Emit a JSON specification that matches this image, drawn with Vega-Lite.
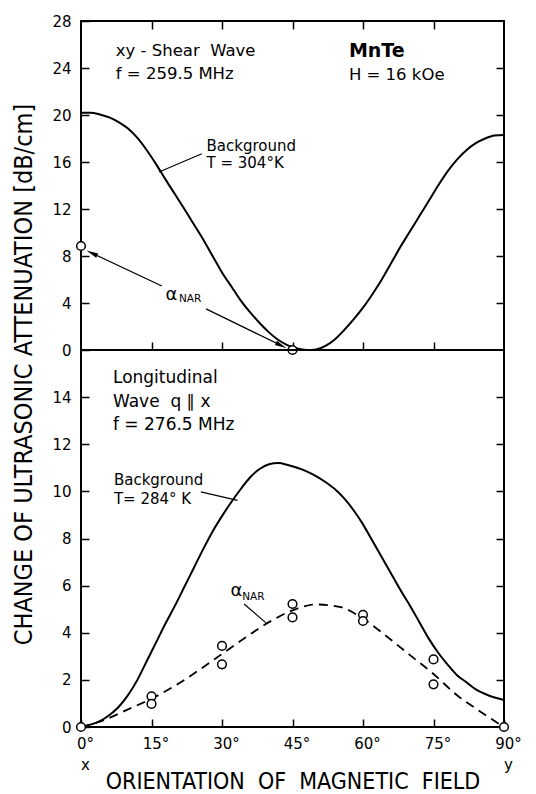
{
  "$schema": "https://vega.github.io/schema/vega-lite/v6.json",
  "background": "white",
  "padding": {"left": 10, "top": 13, "right": 14, "bottom": 0},
  "config": {
    "view": {"stroke": "black", "strokeWidth": 2},
    "font": "DejaVu Sans",
    "axis": {
      "domain": false,
      "grid": false,
      "ticks": true,
      "tickColor": "black",
      "tickWidth": 1.5,
      "tickSize": 8,
      "offset": -8,
      "zindex": 1,
      "labelColor": "black",
      "labelFont": "DejaVu Sans",
      "labelFontSize": 15,
      "titleColor": "black",
      "titleFont": "DejaVu Sans Condensed",
      "titleFontWeight": "normal"
    },
    "text": {"font": "DejaVu Sans", "color": "black", "align": "left", "baseline": "alphabetic"}
  },
  "datasets": {
    "bg1": [
      {"angle": 0, "att": 20.2}, {"angle": 2, "att": 20.2}, {"angle": 4, "att": 20.05}, {"angle": 6, "att": 19.8},
      {"angle": 8, "att": 19.4}, {"angle": 10, "att": 18.85}, {"angle": 12, "att": 18.05}, {"angle": 14, "att": 17.0},
      {"angle": 16, "att": 15.8}, {"angle": 18, "att": 14.5}, {"angle": 20, "att": 13.25}, {"angle": 22, "att": 12.0},
      {"angle": 24, "att": 10.7}, {"angle": 26, "att": 9.4}, {"angle": 28, "att": 8.0}, {"angle": 30, "att": 6.6},
      {"angle": 32, "att": 5.4}, {"angle": 34, "att": 4.2}, {"angle": 36, "att": 3.2}, {"angle": 38, "att": 2.3},
      {"angle": 40, "att": 1.5}, {"angle": 42, "att": 0.85}, {"angle": 44, "att": 0.4}, {"angle": 46, "att": 0.12},
      {"angle": 48, "att": 0.0}, {"angle": 50, "att": 0.05}, {"angle": 52, "att": 0.35}, {"angle": 54, "att": 0.9},
      {"angle": 56, "att": 1.7}, {"angle": 58, "att": 2.6}, {"angle": 60, "att": 3.6}, {"angle": 62, "att": 4.75},
      {"angle": 64, "att": 6.0}, {"angle": 66, "att": 7.4}, {"angle": 68, "att": 8.8}, {"angle": 70, "att": 10.1},
      {"angle": 72, "att": 11.4}, {"angle": 74, "att": 12.7}, {"angle": 76, "att": 14.0}, {"angle": 78, "att": 15.2},
      {"angle": 80, "att": 16.2}, {"angle": 82, "att": 17.0}, {"angle": 84, "att": 17.6}, {"angle": 86, "att": 18.0},
      {"angle": 88, "att": 18.25}, {"angle": 90, "att": 18.3}
    ],
    "nar1": [{"angle": 0, "att": 8.85}, {"angle": 45, "att": 0}],
    "bg2": [
      {"angle": 0, "att": 0}, {"angle": 2, "att": 0.1}, {"angle": 4, "att": 0.25}, {"angle": 6, "att": 0.5},
      {"angle": 8, "att": 0.85}, {"angle": 10, "att": 1.35}, {"angle": 12, "att": 2.0}, {"angle": 14, "att": 2.8},
      {"angle": 16, "att": 3.6}, {"angle": 18, "att": 4.4}, {"angle": 20, "att": 5.15}, {"angle": 22, "att": 5.95},
      {"angle": 24, "att": 6.75}, {"angle": 26, "att": 7.55}, {"angle": 28, "att": 8.3}, {"angle": 30, "att": 8.95},
      {"angle": 32, "att": 9.55}, {"angle": 34, "att": 10.1}, {"angle": 36, "att": 10.6}, {"angle": 38, "att": 10.95},
      {"angle": 40, "att": 11.15}, {"angle": 42, "att": 11.2}, {"angle": 44, "att": 11.12}, {"angle": 46, "att": 11.0},
      {"angle": 48, "att": 10.85}, {"angle": 50, "att": 10.65}, {"angle": 52, "att": 10.4}, {"angle": 54, "att": 10.1},
      {"angle": 56, "att": 9.7}, {"angle": 58, "att": 9.2}, {"angle": 60, "att": 8.6}, {"angle": 62, "att": 7.9},
      {"angle": 64, "att": 7.2}, {"angle": 66, "att": 6.5}, {"angle": 68, "att": 5.8}, {"angle": 70, "att": 5.15},
      {"angle": 72, "att": 4.45}, {"angle": 74, "att": 3.75}, {"angle": 76, "att": 3.15}, {"angle": 78, "att": 2.65},
      {"angle": 80, "att": 2.2}, {"angle": 82, "att": 1.9}, {"angle": 84, "att": 1.6}, {"angle": 86, "att": 1.4},
      {"angle": 88, "att": 1.25}, {"angle": 90, "att": 1.15}
    ],
    "narfit2": [
      {"angle": 0, "att": 0}, {"angle": 5, "att": 0.3}, {"angle": 10, "att": 0.75}, {"angle": 15, "att": 1.2},
      {"angle": 20, "att": 1.75}, {"angle": 25, "att": 2.4}, {"angle": 30, "att": 3.1}, {"angle": 35, "att": 3.8},
      {"angle": 40, "att": 4.45}, {"angle": 45, "att": 4.95}, {"angle": 50, "att": 5.2}, {"angle": 55, "att": 5.1},
      {"angle": 60, "att": 4.6}, {"angle": 65, "att": 3.85}, {"angle": 70, "att": 3.05}, {"angle": 75, "att": 2.25},
      {"angle": 80, "att": 1.35}, {"angle": 85, "att": 0.65}, {"angle": 88, "att": 0.25}, {"angle": 90, "att": 0}
    ],
    "nar2": [
      {"angle": 0, "att": 0},
      {"angle": 15, "att": 1.3}, {"angle": 15, "att": 0.98},
      {"angle": 30, "att": 3.44}, {"angle": 30, "att": 2.66},
      {"angle": 45, "att": 5.22}, {"angle": 45, "att": 4.65},
      {"angle": 60, "att": 4.76}, {"angle": 60, "att": 4.5},
      {"angle": 75, "att": 2.87}, {"angle": 75, "att": 1.81},
      {"angle": 90, "att": 0}
    ]
  },
  "bounds": "flush",
  "spacing": 0,
  "vconcat": [
    {
      "width": 423,
      "height": 329,
      "resolve": {"axis": {"x": "independent", "y": "independent"}},
      "layer": [
        {
          "data": {"name": "bg1"},
          "mark": {"type": "line", "color": "black", "strokeWidth": 2, "interpolate": "monotone"},
          "encoding": {
            "x": {"field": "angle", "type": "quantitative", "scale": {"domain": [0, 90], "nice": false},
                  "axis": {"orient": "bottom", "values": [15, 30, 45, 60, 75], "labels": false, "title": null}},
            "y": {"field": "att", "type": "quantitative", "scale": {"domain": [0, 28], "nice": false},
                  "axis": {"orient": "left", "values": [0, 4, 8, 12, 16, 20, 24, 28], "labelPadding": 10,
                           "title": "CHANGE OF ULTRASONIC ATTENUATION [dB/cm]",
                           "titleX": -66, "titleY": 353, "titleAngle": -90, "titleAlign": "center",
                           "titleBaseline": "middle", "titleFontSize": 25}}
          }
        },
        {
          "data": {"values": [
            {"x1": 16.6, "y1": 15.15, "x2": 25.7, "y2": 16.7},
            {"x1": 17.2, "y1": 5.45, "x2": 2.3, "y2": 8.25},
            {"x1": 26.6, "y1": 3.5, "x2": 42.6, "y2": 0.38}
          ]},
          "mark": {"type": "rule", "color": "black", "strokeWidth": 1.2},
          "encoding": {
            "x": {"field": "x1", "type": "quantitative",
                  "axis": {"orient": "top", "values": [15, 30, 45, 60, 75], "labels": false, "title": null}},
            "y": {"field": "y1", "type": "quantitative",
                  "axis": {"orient": "right", "values": [4, 8, 12, 16, 20, 24], "labels": false, "title": null}},
            "x2": {"field": "x2"},
            "y2": {"field": "y2"}
          }
        },
        {
          "data": {"values": [{"x": 2.3, "y": 8.25}]},
          "mark": {"type": "point", "shape": "M0,-1L0.4,1L-0.4,1Z", "filled": true, "color": "black", "opacity": 1, "size": 140, "angle": 295},
          "encoding": {"x": {"field": "x", "type": "quantitative", "axis": null}, "y": {"field": "y", "type": "quantitative", "axis": null}}
        },
        {
          "data": {"values": [{"x": 42.6, "y": 0.38}]},
          "mark": {"type": "point", "shape": "M0,-1L0.4,1L-0.4,1Z", "filled": true, "color": "black", "opacity": 1, "size": 140, "angle": 116},
          "encoding": {"x": {"field": "x", "type": "quantitative", "axis": null}, "y": {"field": "y", "type": "quantitative", "axis": null}}
        },
        {
          "data": {"name": "nar1"},
          "mark": {"type": "circle", "fill": "white", "stroke": "black", "strokeWidth": 1.5, "size": 75, "opacity": 1},
          "encoding": {"x": {"field": "angle", "type": "quantitative", "axis": null}, "y": {"field": "att", "type": "quantitative", "axis": null}}
        },
        {
          "data": {"values": [
            {"x": 7.4, "y": 25.0, "t": "xy - Shear\u00a0 Wave"},
            {"x": 7.4, "y": 23.04, "t": "f = 259.5 MHz"},
            {"x": 57, "y": 22.98, "t": "H = 16 kOe"}
          ]},
          "mark": {"type": "text", "fontSize": 16.5},
          "encoding": {"x": {"field": "x", "type": "quantitative", "axis": null}, "y": {"field": "y", "type": "quantitative", "axis": null}, "text": {"field": "t"}}
        },
        {
          "data": {"values": [{"x": 57, "y": 24.94, "t": "MnTe"}]},
          "mark": {"type": "text", "fontSize": 19, "fontWeight": "bold"},
          "encoding": {"x": {"field": "x", "type": "quantitative", "axis": null}, "y": {"field": "y", "type": "quantitative", "axis": null}, "text": {"field": "t"}}
        },
        {
          "data": {"values": [
            {"x": 26.7, "y": 16.94, "t": "Background"},
            {"x": 26.7, "y": 15.5, "t": "T = 304°K"}
          ]},
          "mark": {"type": "text", "fontSize": 15},
          "encoding": {"x": {"field": "x", "type": "quantitative", "axis": null}, "y": {"field": "y", "type": "quantitative", "axis": null}, "text": {"field": "t"}}
        },
        {
          "data": {"values": [{"x": 18.0, "y": 4.26, "t": "α"}]},
          "mark": {"type": "text", "fontSize": 18},
          "encoding": {"x": {"field": "x", "type": "quantitative", "axis": null}, "y": {"field": "y", "type": "quantitative", "axis": null}, "text": {"field": "t"}}
        },
        {
          "data": {"values": [{"x": 20.85, "y": 4.12, "t": "NAR"}]},
          "mark": {"type": "text", "fontSize": 10.5},
          "encoding": {"x": {"field": "x", "type": "quantitative", "axis": null}, "y": {"field": "y", "type": "quantitative", "axis": null}, "text": {"field": "t"}}
        }
      ]
    },
    {
      "width": 423,
      "height": 377,
      "resolve": {"axis": {"x": "independent", "y": "independent"}},
      "layer": [
        {
          "data": {"name": "bg2"},
          "mark": {"type": "line", "color": "black", "strokeWidth": 2, "interpolate": "monotone"},
          "encoding": {
            "x": {"field": "angle", "type": "quantitative", "scale": {"domain": [0, 90], "nice": false},
                  "axis": {"orient": "bottom", "values": [0, 15, 30, 45, 60, 75, 90], "labelPadding": 9,
                           "labelOffset": 4, "labelLineHeight": 21, "labelBaseline": "top", "labelFlush": false,
                           "labelExpr": "datum.value == 0 ? ['0°', 'x'] : datum.value == 90 ? ['90°', 'y'] : datum.value + '°'",
                           "title": "ORIENTATION\u00a0 OF\u00a0 MAGNETIC\u00a0 FIELD", "titleFontSize": 23, "titlePadding": -2}},
            "y": {"field": "att", "type": "quantitative", "scale": {"domain": [0, 16], "nice": false},
                  "axis": {"orient": "left", "values": [0, 2, 4, 6, 8, 10, 12, 14], "labelPadding": 10, "title": null}}
          }
        },
        {
          "data": {"name": "narfit2"},
          "mark": {"type": "line", "color": "black", "strokeWidth": 1.8, "strokeDash": [9, 6], "interpolate": "monotone"},
          "encoding": {
            "x": {"field": "angle", "type": "quantitative", "axis": null},
            "y": {"field": "att", "type": "quantitative",
                  "axis": {"orient": "right", "values": [2, 4, 6, 8, 10, 12, 14], "labels": false, "title": null}}
          }
        },
        {
          "data": {"values": [
            {"x1": 25.5, "y1": 9.98, "x2": 33.3, "y2": 9.62},
            {"x1": 34.7, "y1": 5.22, "x2": 39.3, "y2": 4.43}
          ]},
          "mark": {"type": "rule", "color": "black", "strokeWidth": 1.2},
          "encoding": {
            "x": {"field": "x1", "type": "quantitative", "axis": null},
            "y": {"field": "y1", "type": "quantitative", "axis": null},
            "x2": {"field": "x2"},
            "y2": {"field": "y2"}
          }
        },
        {
          "data": {"name": "nar2"},
          "mark": {"type": "circle", "fill": "white", "stroke": "black", "strokeWidth": 1.5, "size": 75, "opacity": 1},
          "encoding": {"x": {"field": "angle", "type": "quantitative", "axis": null}, "y": {"field": "att", "type": "quantitative", "axis": null}}
        },
        {
          "data": {"values": [
            {"x": 6.8, "y": 14.6, "t": "Longitudinal"},
            {"x": 6.8, "y": 13.6, "t": "Wave\u00a0 q ∥ x"},
            {"x": 6.8, "y": 12.61, "t": "f = 276.5 MHz"}
          ]},
          "mark": {"type": "text", "fontSize": 17},
          "encoding": {"x": {"field": "x", "type": "quantitative", "axis": null}, "y": {"field": "y", "type": "quantitative", "axis": null}, "text": {"field": "t"}}
        },
        {
          "data": {"values": [
            {"x": 7.0, "y": 10.26, "t": "Background"},
            {"x": 7.0, "y": 9.48, "t": "T= 284° K"}
          ]},
          "mark": {"type": "text", "fontSize": 15},
          "encoding": {"x": {"field": "x", "type": "quantitative", "axis": null}, "y": {"field": "y", "type": "quantitative", "axis": null}, "text": {"field": "t"}}
        },
        {
          "data": {"values": [{"x": 31.8, "y": 5.57, "t": "α"}]},
          "mark": {"type": "text", "fontSize": 18},
          "encoding": {"x": {"field": "x", "type": "quantitative", "axis": null}, "y": {"field": "y", "type": "quantitative", "axis": null}, "text": {"field": "t"}}
        },
        {
          "data": {"values": [{"x": 34.3, "y": 5.39, "t": "NAR"}]},
          "mark": {"type": "text", "fontSize": 10.5},
          "encoding": {"x": {"field": "x", "type": "quantitative", "axis": null}, "y": {"field": "y", "type": "quantitative", "axis": null}, "text": {"field": "t"}}
        }
      ]
    }
  ]
}
